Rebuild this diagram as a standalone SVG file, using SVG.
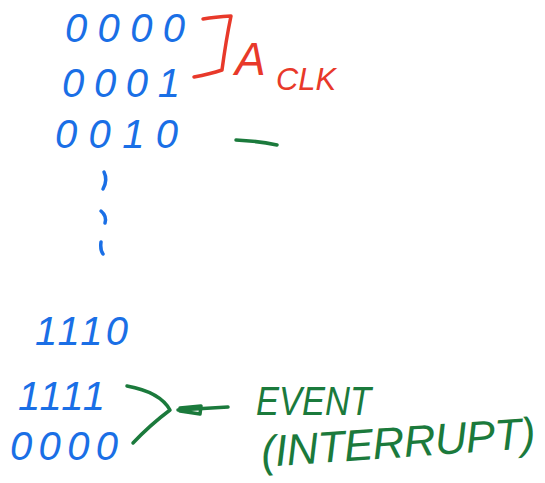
<svg xmlns="http://www.w3.org/2000/svg" width="545" height="483" viewBox="0 0 545 483">
  <style>
    .bits { font-family: "Liberation Sans", Arial, sans-serif; font-style: italic; font-size: 40px; fill: #1a6fe6; }
    .clk { font-family: "Liberation Sans", Arial, sans-serif; font-style: italic; fill: #e8392a; }
    .note { font-family: "Liberation Sans", Arial, sans-serif; font-style: italic; fill: #1b7a3c; }
    .ink-blue { fill: none; stroke: #1a6fe6; stroke-width: 3.5; stroke-linecap: round; stroke-linejoin: round; }
    .ink-red { fill: none; stroke: #e8392a; stroke-width: 3.5; stroke-linecap: round; stroke-linejoin: round; }
    .ink-green { fill: none; stroke: #1b7a3c; stroke-width: 3.5; stroke-linecap: round; stroke-linejoin: round; }
  </style>
  <rect width="545" height="483" fill="#ffffff"/>

  <!-- counter states -->
  <g id="state-0000-top"><text class="bits" x="65" y="42" textLength="120" lengthAdjust="spacing">0000</text></g>
  <g id="state-0001"><text class="bits" x="62" y="97" textLength="118" lengthAdjust="spacing">0001</text></g>
  <g id="state-0010"><text class="bits" x="55" y="148" textLength="123" lengthAdjust="spacing">0010</text></g>

  <!-- ellipsis between states -->
  <g id="ellipsis">
    <path class="ink-blue" d="M104 172 Q108 180 103 189"/>
    <path class="ink-blue" d="M101 211 Q107 216 105 223"/>
    <path class="ink-blue" d="M101 242 Q100 250 103 254"/>
  </g>

  <g id="state-1110"><text class="bits" x="35" y="345" font-size="36" textLength="93" lengthAdjust="spacing">1110</text></g>
  <g id="state-1111"><text class="bits" x="18" y="410" font-size="36" textLength="87" lengthAdjust="spacing">1111</text></g>
  <g id="state-0000-bottom"><text class="bits" x="10" y="460" textLength="108" lengthAdjust="spacing">0000</text></g>

  <!-- clock period label -->
  <g id="clock-period">
    <text class="clk" x="235" y="75" font-size="46">A</text>
    <text class="clk" x="276" y="90" font-size="32" textLength="60" lengthAdjust="spacingAndGlyphs">CLK</text>
  </g>

  <!-- event label -->
  <g id="event-label">
    <text class="note" x="256" y="415" font-size="40" textLength="115" lengthAdjust="spacingAndGlyphs">EVENT</text>
    <text class="note" x="262" y="467" font-size="44" textLength="275" lengthAdjust="spacing" transform="rotate(-4 262 467)">(INTERRUPT)</text>
  </g>

  <!-- connectors and marks -->
  <g id="connectors">
    <path class="ink-red" d="M203 19 Q215 17 231 16 Q226 40 222 70 Q210 74 194 77"/>
    <path class="ink-green" d="M236 140 Q258 141 277 145"/>
    <path class="ink-green" d="M127 386 Q160 392 170 410 Q150 425 133 443"/>
    <path class="ink-green" d="M228 407 L178 410"/>
    <path class="ink-green" d="M180 408 L201 406 L200 414 L180 411 Z"/>
  </g>
</svg>
